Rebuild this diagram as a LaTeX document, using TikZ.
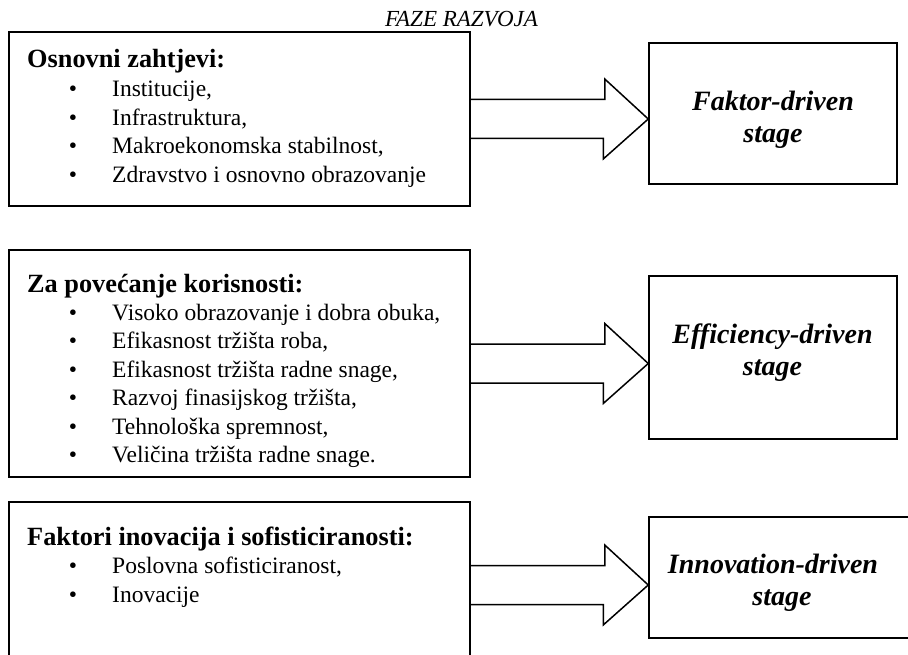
\documentclass[tikz,border=0pt]{standalone}
\usepackage{fontspec}
\setmainfont{Liberation Serif}
\usetikzlibrary{calc}
\begin{document}
\begin{tikzpicture}[x=1pt,y=-1pt,
  box/.style={draw, line width=1.5pt, rectangle, inner sep=0pt},
  blockarrow/.style={draw, line width=1.5pt, line join=miter},
  body/.style={font=\fontsize{23.5}{28}\selectfont, anchor=base west, inner sep=0pt},
  bul/.style={font=\fontsize{23.5}{28}\selectfont, anchor=base, inner sep=0pt},
  head/.style={font=\fontsize{26.3}{30}\selectfont\bfseries, anchor=base west, inner sep=0pt},
  stagetxt/.style={font=\fontsize{28}{32}\selectfont\bfseries\itshape, anchor=base, inner sep=0pt},
  titletxt/.style={font=\fontsize{23}{26}\selectfont\itshape, anchor=base, inner sep=0pt}]
\useasboundingbox (0,0) rectangle (908,655);
\clip (0,0) rectangle (908,655);
\fill[white] (0,0) rectangle (908,655);

\node[titletxt] (title) at (461.5,27) {FAZE RAZVOJA};

% left boxes
\node[box, minimum width=461pt, minimum height=174pt] (b1) at (239.5,119) {};
\node[box, minimum width=461pt, minimum height=227pt] (b2) at (239.5,363.5) {};
\node[box, minimum width=461pt, minimum height=166pt] (b3) at (239.5,585) {};

% right boxes
\node[box, minimum width=248pt, minimum height=141pt] (s1) at (773,113.5) {};
\node[box, minimum width=248pt, minimum height=163pt] (s2) at (773,357.5) {};
\node[box, minimum width=301pt, minimum height=121pt] (s3) at (799.5,577.5) {};

% block arrows
\draw[blockarrow] ($(b1.east)+(0,-19.5)$) -- ++(134,0) -- ++(0,-20.5) -- (s1.west |- b1.east) -- ++(-45,40) -- ++(0,-20.5) -- ++(-134,0);
\draw[blockarrow] ($(b2.east)+(0,-19.5)$) -- ++(134,0) -- ++(0,-20.5) -- (s2.west |- b2.east) -- ++(-45,40) -- ++(0,-20.5) -- ++(-134,0);
\draw[blockarrow] ($(b3.east)+(0,-19.5)$) -- ++(134,0) -- ++(0,-20.5) -- (s3.west |- b3.east) -- ++(-45,40) -- ++(0,-20.5) -- ++(-134,0);

% box 1 text
\node[head] (h1) at (27,68) {Osnovni zahtjevi:};
\node[bul] (p11) at (73,97) {•};
\node[body] (t11) at (112,97) {Institucije,};
\node[bul] (p12) at (73,125.5) {•};
\node[body] (t12) at (112,125.5) {Infrastruktura,};
\node[bul] (p13) at (73,154) {•};
\node[body] (t13) at (112,154) {Makroekonomska stabilnost,};
\node[bul] (p14) at (73,182.5) {•};
\node[body] (t14) at (112,182.5) {Zdravstvo i osnovno obrazovanje};

% box 2 text
\node[head] (h2) at (27,293) {Za povećanje korisnosti:};
\node[bul] (p21) at (73,320) {•};
\node[body] (t21) at (112,320) {Visoko obrazovanje i dobra obuka,};
\node[bul] (p22) at (73,348.5) {•};
\node[body] (t22) at (112,348.5) {Efikasnost tržišta roba,};
\node[bul] (p23) at (73,377) {•};
\node[body] (t23) at (112,377) {Efikasnost tržišta radne snage,};
\node[bul] (p24) at (73,405.5) {•};
\node[body] (t24) at (112,405.5) {Razvoj finasijskog tržišta,};
\node[bul] (p25) at (73,434) {•};
\node[body] (t25) at (112,434) {Tehnološka spremnost,};
\node[bul] (p26) at (73,462) {•};
\node[body] (t26) at (112,462) {Veličina tržišta radne snage.};

% box 3 text
\node[head] (h3) at (27,545) {Faktori inovacija i sofisticiranosti:};
\node[bul] (p31) at (73,573.5) {•};
\node[body] (t31) at (112,573.5) {Poslovna sofisticiranost,};
\node[bul] (p32) at (73,602) {•};
\node[body] (t32) at (112,602) {Inovacije};

% stage texts
\node[stagetxt] (f1) at (773,111) {Faktor-driven};
\node[stagetxt] (f2) at (773,143) {stage};
\node[stagetxt] (e1) at (772.5,343) {Efficiency-driven};
\node[stagetxt] (e2) at (772.5,375) {stage};
\node[stagetxt] (n1) at (773,573) {Innovation-driven};
\node[stagetxt] (n2) at (782,605) {stage};
\end{tikzpicture}
\end{document}
